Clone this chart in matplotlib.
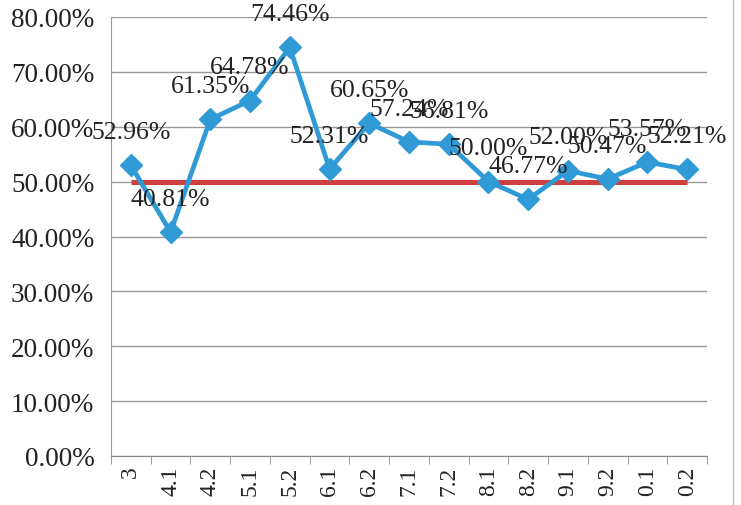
import matplotlib
matplotlib.use("Agg")
import matplotlib.pyplot as plt
from matplotlib.ticker import FuncFormatter, MultipleLocator, FixedLocator
import numpy as np

categories = ["3", "4.1", "4.2", "5.1", "5.2", "6.1", "6.2", "7.1", "7.2",
              "8.1", "8.2", "9.1", "9.2", "0.1", "0.2"]
rates = [52.96, 40.81, 61.35, 64.78, 74.46, 52.31, 60.65, 57.24, 56.81,
         50.00, 46.77, 52.00, 50.47, 53.57, 52.21]
baseline = [50.0] * len(categories)

plt.rcParams['font.family'] = ['Liberation Serif', 'DejaVu Serif']

fig = plt.figure(figsize=(7.41, 5.06), dpi=100)
fig.patch.set_facecolor('white')
ax = fig.add_axes([111/741, 1 - 457/506, (707 - 111)/741, (457 - 18)/506])

x = np.arange(len(categories))
ax.plot(x, baseline, color='#CC4040', lw=3.6, solid_capstyle='butt', zorder=2)
ax.plot(x, rates, color='#2F9AD6', lw=3.4, marker='D', markersize=11,
        markerfacecolor='#2F9AD6', markeredgecolor='#2F9AD6', zorder=3)

for xi, v in zip(x, rates):
    ax.annotate(f"{v:.2f}%", (xi, v), xytext=(0, 24), textcoords='offset points',
                ha='center', va='center', fontsize=18.5, color='#222222', zorder=4,
                annotation_clip=False)

ax.set_xlim(-0.5, len(categories) - 0.5)
ax.set_ylim(0, 80)
ax.yaxis.set_major_locator(MultipleLocator(10))
ax.yaxis.set_major_formatter(FuncFormatter(lambda v, p: f"{v:.2f}%"))
ax.grid(axis='y', color='#999999', lw=1.0)
ax.set_axisbelow(True)

ax.set_xticks(x)
ax.set_xticklabels(categories, rotation=90, fontsize=17)
ax.xaxis.set_minor_locator(FixedLocator(np.arange(-0.5, len(categories), 1.0)))
ax.tick_params(axis='x', which='major', length=0, pad=7, colors='#222222')
ax.tick_params(axis='x', which='minor', length=6, color='#888888')
ax.tick_params(axis='y', length=0, labelsize=19.5, pad=12, colors='#222222')

for s in ['top', 'right']:
    ax.spines[s].set_visible(False)
ax.spines['left'].set_color('#999999')
ax.spines['bottom'].set_color('#888888')

fig.add_artist(plt.Line2D([733/741, 733/741], [0, 1], color='#BBBBBB', lw=1))

fig.savefig("out.png", dpi=100, facecolor='white')
